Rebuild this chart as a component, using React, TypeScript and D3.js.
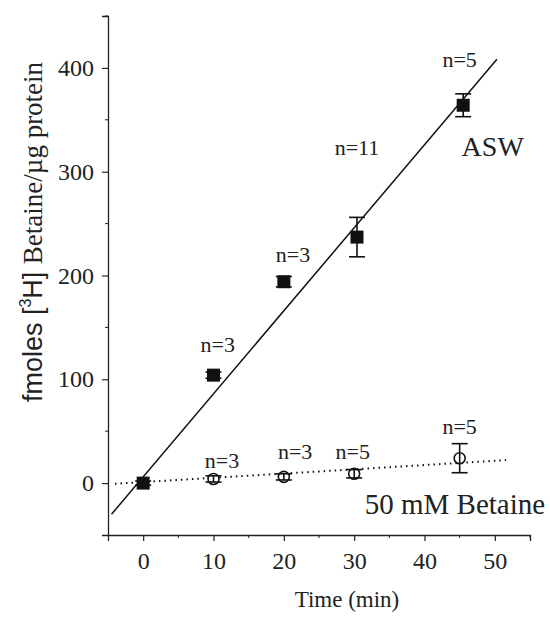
import React, { useEffect, useRef } from "react";
import * as d3 from "d3";

// ASW series (filled squares)
const aswTime = [0, 10, 20, 30.4, 45.5];
const aswValue = [0, 104, 194, 237, 364];
const aswErr = [2, 3, 5, 19, 11];

// 50 mM Betaine series (open circles)
const betTime = [10, 20, 30, 45];
const betValue = [4, 6, 9, 24];
const betErr = [3, 3, 4, 14];

// regression lines: [intercept, slope, xStart, xEnd]
const aswFit = [6, 8.0, -4.5, 50.3];
const betFit = [1, 0.41, -4, 51.6];

const xTicks = [0, 10, 20, 30, 40, 50];
const xMinor = [5, 15, 25, 35, 45, 55];
const yTicks = [0, 100, 200, 300, 400];
const yMinor = [50, 150, 250, 350, 450];

// annotation labels (data coords, text baseline)
const nLabelText = ["n=3", "n=3", "n=11", "n=5", "n=3", "n=3", "n=5", "n=5"];
const nLabelX = [10.6, 21.3, 30.4, 45.0, 11.2, 21.6, 29.8, 45.0];
const nLabelY = [126, 213, 316, 401, 15, 23, 23, 47];

const App = () => {
  const svgRef = useRef<SVGSVGElement | null>(null);

  useEffect(() => {
    const width = 550;
    const height = 619;
    const serif = "Liberation Serif";
    const sans = "Liberation Sans";

    const x = d3.scaleLinear().domain([-5, 55]).range([108, 530]);
    const y = d3.scaleLinear().domain([-50, 450]).range([535, 16]);

    const svg = d3.select(svgRef.current);
    svg.selectAll("*").remove();
    svg.attr("width", width).attr("height", height);

    svg.append("rect").attr("width", width).attr("height", height).attr("fill", "#fff");

    // axes
    const xAxis = d3.axisBottom(x).tickValues(xTicks).tickSize(6).tickPadding(11).tickFormat(d3.format("d"));
    const gx = svg.append("g").attr("transform", `translate(0,${y(-50)})`).call(xAxis);
    gx.append("g")
      .selectAll("line")
      .data(xMinor)
      .enter()
      .append("line")
      .attr("x1", (d) => x(d))
      .attr("x2", (d) => x(d))
      .attr("y1", 0)
      .attr("y2", 3)
      .attr("stroke", "#222");

    const yAxis = d3.axisLeft(y).tickValues(yTicks).tickSize(6).tickPadding(8).tickFormat(d3.format("d"));
    const gy = svg.append("g").attr("transform", `translate(${x(-5)},0)`).call(yAxis);
    gy.append("g")
      .selectAll("line")
      .data(yMinor)
      .enter()
      .append("line")
      .attr("y1", (d) => y(d))
      .attr("y2", (d) => y(d))
      .attr("x1", 0)
      .attr("x2", -3)
      .attr("stroke", "#222");

    [gx, gy].forEach((g) => {
      g.attr("font-family", serif).attr("font-size", 24);
      g.select(".domain").attr("stroke", "#222").attr("stroke-width", 1.3);
      g.selectAll(".tick line").attr("stroke", "#222").attr("stroke-width", 1.2);
      g.selectAll(".tick text").attr("fill", "#222");
    });

    // axis titles
    svg
      .append("text")
      .attr("x", 347)
      .attr("y", 607)
      .attr("text-anchor", "middle")
      .attr("font-family", serif)
      .attr("font-size", 23)
      .attr("fill", "#222")
      .text("Time (min)");

    const yl = svg
      .append("text")
      .attr("transform", `translate(42,232) rotate(-90)`)
      .attr("text-anchor", "middle")
      .attr("font-size", 27)
      .attr("fill", "#222");
    yl.append("tspan").attr("font-family", sans).text("fmoles [");
    yl.append("tspan").attr("font-family", sans).attr("font-size", 16).attr("dy", -11).text("3");
    yl.append("tspan").attr("font-family", sans).attr("dy", 11).text("H] ");
    yl.append("tspan").attr("font-family", serif).text("Betaine/\u00b5g protein");

    // fit lines
    const fitPath = (fit: number[]) =>
      d3.line<number>()
        .x((d) => x(d))
        .y((d) => y(fit[0] + fit[1] * d))([fit[2], fit[3]]);

    svg.append("path").attr("d", fitPath(aswFit)).attr("stroke", "#111").attr("stroke-width", 1.5).attr("fill", "none");
    svg
      .append("path")
      .attr("d", fitPath(betFit))
      .attr("stroke", "#111")
      .attr("stroke-width", 2)
      .attr("stroke-dasharray", "1.5,4")
      .attr("fill", "none");

    // error bars
    const drawErr = (xs: number[], ys: number[], es: number[]) => {
      xs.forEach((t, i) => {
        const g = svg.append("g").attr("stroke", "#111").attr("stroke-width", 1.6);
        const cx = x(t);
        const top = y(ys[i] + es[i]);
        const bot = y(ys[i] - es[i]);
        g.append("line").attr("x1", cx).attr("x2", cx).attr("y1", top).attr("y2", bot);
        g.append("line").attr("x1", cx - 8).attr("x2", cx + 8).attr("y1", top).attr("y2", top);
        g.append("line").attr("x1", cx - 8).attr("x2", cx + 8).attr("y1", bot).attr("y2", bot);
      });
    };

    // betaine circles
    svg
      .selectAll("circle.bet")
      .data(betTime)
      .enter()
      .append("circle")
      .attr("class", "bet")
      .attr("cx", (d) => x(d))
      .attr("cy", (d, i) => y(betValue[i]))
      .attr("r", 5.5)
      .attr("fill", "#fff")
      .attr("stroke", "#111")
      .attr("stroke-width", 1.6);
    drawErr(betTime, betValue, betErr);

    // ASW squares
    drawErr(aswTime, aswValue, aswErr);
    svg
      .selectAll("rect.asw")
      .data(aswTime)
      .enter()
      .append("rect")
      .attr("class", "asw")
      .attr("x", (d) => x(d) - 6.5)
      .attr("y", (d, i) => y(aswValue[i]) - 6.5)
      .attr("width", 13)
      .attr("height", 13)
      .attr("fill", "#111");

    // n labels
    svg
      .selectAll("text.nlab")
      .data(nLabelText)
      .enter()
      .append("text")
      .attr("class", "nlab")
      .attr("x", (d, i) => x(nLabelX[i]))
      .attr("y", (d, i) => y(nLabelY[i]))
      .attr("text-anchor", "middle")
      .attr("font-family", serif)
      .attr("font-size", 22)
      .attr("fill", "#222")
      .text((d) => d);

    // series labels
    svg
      .append("text")
      .attr("x", x(49.7))
      .attr("y", y(315))
      .attr("text-anchor", "middle")
      .attr("font-family", serif)
      .attr("font-size", 28)
      .attr("fill", "#222")
      .text("ASW");
    svg
      .append("text")
      .attr("x", x(31.5))
      .attr("y", y(-30))
      .attr("text-anchor", "start")
      .attr("font-family", serif)
      .attr("font-size", 29)
      .attr("fill", "#222")
      .text("50 mM Betaine");
  }, []);

  return (
    <div style={{ position: "absolute", left: 0, top: 0 }}>
      <svg ref={svgRef}></svg>
    </div>
  );
};

export default App;
